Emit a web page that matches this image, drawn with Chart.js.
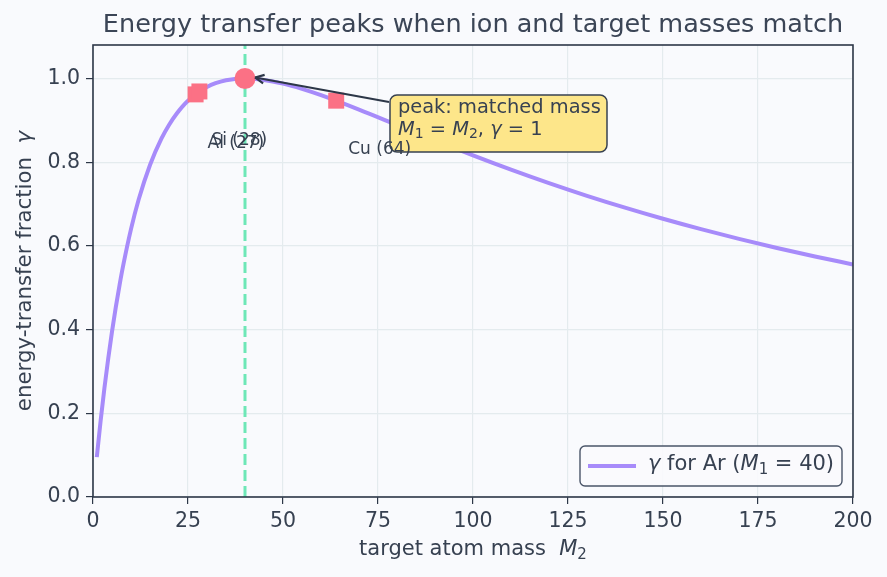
<!DOCTYPE html>
<html><head><meta charset="utf-8">
<script src="https://cdn.jsdelivr.net/npm/chart.js@4"></script>
<style>html,body{margin:0;padding:0;background:#f9fafd;}canvas{display:block;}</style>
</head><body>
<canvas id="c" width="887" height="577"></canvas>
<script>
// ---- data ----
const massM2 = [1,2,3,4,5,6,7,8,10,12,15,18,20,22,25,30,35,40,45,50,55,60,70,80,90,100,110,120,130,140,150,160,170,180,190,200];
const gammaVals = [0.0952,0.1814,0.2596,0.3306,0.3951,0.4537,0.5070,0.5556,0.6400,0.7101,0.7934,0.8561,0.8889,0.9157,0.9467,0.9796,0.9956,1.0000,0.9965,0.9877,0.9751,0.9600,0.9256,0.8889,0.8521,0.8163,0.7822,0.7500,0.7197,0.6914,0.6648,0.6400,0.6168,0.5950,0.5747,0.5556];
const sampleNames = ['Al (27)','Si (28)','Cu (64)'];
const sampleMass = [27,28,64];
const sampleGamma = [0.962,0.969,0.947];
const peakMass = [40];
const peakGamma = [1.0];
const xTicks = [0,25,50,75,100,125,150,175,200];
const yTicks = [0,0.2,0.4,0.6,0.8,1.0];

const FONT = "'DejaVu Sans', sans-serif";
const TXT = '#374151';
const FRAME = '#2d3748';

function drawRich(ctx, parts, x, y, size) {
  let cx = x;
  for (const [t, st] of parts) {
    if (st === 's') {
      ctx.font = `${Math.round(size*0.7)}px ${FONT}`;
      ctx.fillText(t, cx, y + size*0.25);
    } else {
      ctx.font = `${st==='i'?'italic ':''}${size}px ${FONT}`;
      ctx.fillText(t, cx, y);
    }
    cx += ctx.measureText(t).width;
  }
  return cx;
}
function richWidth(ctx, parts, size) {
  let w = 0;
  for (const [t, st] of parts) {
    if (st === 's') ctx.font = `${Math.round(size*0.7)}px ${FONT}`;
    else ctx.font = `${st==='i'?'italic ':''}${size}px ${FONT}`;
    w += ctx.measureText(t).width;
  }
  return w;
}

const overlay = {
  id: 'overlay',
  beforeDraw(chart) {
    const ctx = chart.ctx;
    ctx.save();
    ctx.fillStyle = '#f9fafd';
    ctx.fillRect(0, 0, chart.width, chart.height);
    ctx.restore();
  },
  afterDraw(chart) {
    const ctx = chart.ctx;
    const a = chart.chartArea;
    const xs = chart.scales.x, ys = chart.scales.y;
    ctx.save();
    // frame
    ctx.strokeStyle = FRAME; ctx.lineWidth = 1.6;
    ctx.strokeRect(a.left, a.top, a.right - a.left, a.bottom - a.top);
    // title
    ctx.fillStyle = '#3b4556';
    ctx.font = `25.5px ${FONT}`;
    ctx.textAlign = 'center'; ctx.textBaseline = 'middle';
    ctx.fillText('Energy transfer peaks when ion and target masses match', (a.left + a.right)/2, 25);
    // x title
    ctx.fillStyle = TXT; ctx.textAlign = 'left'; ctx.textBaseline = 'middle';
    const xp = [['target atom mass  ','n'],['M','i'],['2','s']];
    const wx = richWidth(ctx, xp, 21);
    drawRich(ctx, xp, (a.left + a.right)/2 - wx/2, 550, 21);
    // y title
    ctx.save();
    ctx.translate(25, (a.top + a.bottom)/2);
    ctx.rotate(-Math.PI/2);
    const yp = [['energy-transfer fraction  ','n'],['γ','i']];
    const wy = richWidth(ctx, yp, 21.3);
    drawRich(ctx, yp, -wy/2, 0, 21.3);
    ctx.restore();
    // annotation arrow
    const tx = xs.getPixelForValue(peakMass[0]) + 10, ty = ys.getPixelForValue(peakGamma[0]) - 1;
    const sx = 389, sy = 102;
    ctx.strokeStyle = FRAME; ctx.lineWidth = 2.2;
    ctx.beginPath(); ctx.moveTo(sx, sy); ctx.lineTo(tx, ty); ctx.stroke();
    const ang = Math.atan2(ty - sy, tx - sx);
    ctx.beginPath();
    ctx.moveTo(tx, ty);
    ctx.lineTo(tx - 10*Math.cos(ang - 0.45), ty - 10*Math.sin(ang - 0.45));
    ctx.moveTo(tx, ty);
    ctx.lineTo(tx - 10*Math.cos(ang + 0.45), ty - 10*Math.sin(ang + 0.45));
    ctx.stroke();
    // annotation box
    const bx = 390, by = 95, bw = 217, bh = 57;
    ctx.beginPath(); ctx.roundRect(bx, by, bw, bh, 7);
    ctx.fillStyle = '#fde68a'; ctx.fill();
    ctx.strokeStyle = '#374151'; ctx.lineWidth = 1.5; ctx.stroke();
    ctx.fillStyle = TXT; ctx.textBaseline = 'middle';
    ctx.font = `19.4px ${FONT}`;
    ctx.fillText('peak: matched mass', 398, 108);
    drawRich(ctx, [['M','i'],['1','s'],[' = ','n'],['M','i'],['2','s'],[', ','n'],['γ','i'],[' = 1','n']], 398, 130, 19.4);
    // sample labels (drawn above the box)
    ctx.font = `17px ${FONT}`; ctx.fillStyle = TXT; ctx.textBaseline = 'middle';
    for (let i = 0; i < sampleNames.length; i++) {
      const px = xs.getPixelForValue(sampleMass[i]);
      const py = ys.getPixelForValue(sampleGamma[i]);
      ctx.fillText(sampleNames[i], px + 12, py + 49);
    }
    // legend
    const lx = 580, ly = 446, lw = 262, lh = 40;
    ctx.beginPath(); ctx.roundRect(lx, ly, lw, lh, 5);
    ctx.fillStyle = 'rgba(249,250,253,0.9)'; ctx.fill();
    ctx.strokeStyle = '#4a5568'; ctx.lineWidth = 1.4; ctx.stroke();
    ctx.strokeStyle = '#a78bfa'; ctx.lineWidth = 4;
    ctx.beginPath(); ctx.moveTo(588, 466); ctx.lineTo(636, 466); ctx.stroke();
    ctx.fillStyle = TXT;
    drawRich(ctx, [['γ','i'],[' for Ar (','n'],['M','i'],['1','s'],[' = 40)','n']], 648, 465, 21);
    ctx.restore();
  }
};

const curve = massM2.map((m, i) => ({x: m, y: gammaVals[i]}));
const samples = sampleMass.map((m, i) => ({x: m, y: sampleGamma[i]}));
const peak = peakMass.map((m, i) => ({x: m, y: peakGamma[i]}));
const vline = [{x: peakMass[0], y: 0}, {x: peakMass[0], y: 1.08}];

new Chart(document.getElementById('c'), {
  type: 'line',
  data: {
    datasets: [
      {data: vline, borderColor: '#6ee7b7', borderWidth: 3, borderDash: [11, 5], pointRadius: 0, order: 3},
      {data: curve, borderColor: '#a78bfa', borderWidth: 4, pointRadius: 0, cubicInterpolationMode: 'monotone', order: 2},
      {data: samples, showLine: false, pointStyle: 'rect', pointRadius: 11.3, pointBackgroundColor: '#fb7185', pointBorderWidth: 0, order: 1},
      {data: peak, showLine: false, pointStyle: 'circle', pointRadius: 10.5, pointBackgroundColor: '#fb7185', pointBorderWidth: 0, order: 0}
    ]
  },
  options: {
    responsive: false, animation: false, devicePixelRatio: 1,
    layout: {padding: {left: 0, right: 34, top: 45, bottom: 0}},
    plugins: {legend: {display: false}, tooltip: {enabled: false}, title: {display: false}},
    scales: {
      x: {
        type: 'linear', min: 0, max: 200,
        afterBuildTicks: s => { s.ticks = xTicks.map(v => ({value: v})); },
        afterFit: s => { s.height = 80; },
        grid: {color: '#e4ebee', lineWidth: 1.2, tickLength: 7, tickColor: FRAME, drawTicks: true},
        border: {display: false},
        ticks: {color: TXT, font: {family: 'DejaVu Sans', size: 20.5}, padding: 5, maxRotation: 0}
      },
      y: {
        type: 'linear', min: 0, max: 1.08,
        afterBuildTicks: s => { s.ticks = yTicks.map(v => ({value: v})); },
        afterFit: s => { s.width = 93; },
        grid: {color: '#e4ebee', lineWidth: 1.2, tickLength: 7, tickColor: FRAME, drawTicks: true},
        border: {display: false},
        ticks: {color: TXT, font: {family: 'DejaVu Sans', size: 20.5}, padding: 6, callback: v => v.toFixed(1)}
      }
    }
  },
  plugins: [overlay]
});
</script>
</body></html>
